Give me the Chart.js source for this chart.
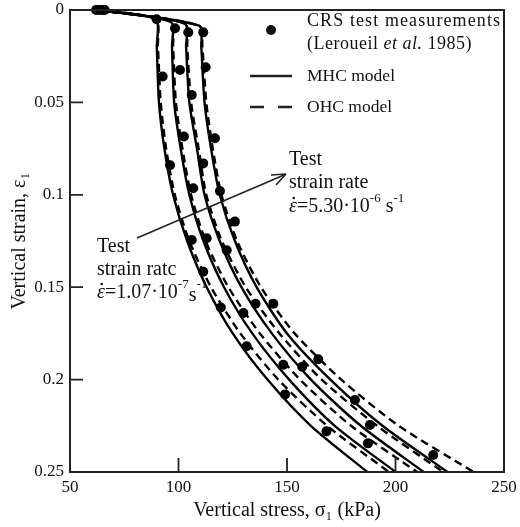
<!DOCTYPE html>
<html>
<head>
<meta charset="utf-8">
<script src="https://cdn.jsdelivr.net/npm/chart.js@4"></script>
<style>
  html, body { margin: 0; padding: 0; background: #fff; }
  #wrap { width: 520px; height: 527px; }
</style>
</head>
<body>
<div id="wrap"><canvas id="myChart" width="520" height="527"></canvas></div>
<script>
// tick labels
const xTicks = [50, 100, 150, 200, 250];
const yTicks = [0, 0.05, 0.1, 0.15, 0.2, 0.25];

// MHC model (solid), one per test, slowest rate on the left
const mhcA = [[63,0],[89.5,0.005],[90,0.02],[91,0.05],[93.5,0.075],[97.5,0.1],[104,0.125],[113,0.15],[125,0.175],[141,0.2],[161,0.225],[187,0.25]];
const mhcB = [[63,0],[96.5,0.0065],[97,0.02],[98,0.05],[101,0.075],[105,0.1],[111.5,0.125],[121,0.15],[134,0.175],[151,0.2],[172,0.225],[200,0.25]];
const mhcC = [[63,0],[103,0.0075],[103.5,0.02],[105,0.05],[108.5,0.075],[112,0.1],[119,0.125],[129,0.15],[143,0.175],[161,0.2],[184,0.225],[213,0.25]];
const mhcD = [[63,0],[109.5,0.0085],[110.5,0.02],[112,0.05],[115,0.075],[119,0.1],[126,0.125],[136,0.15],[150,0.175],[170,0.2],[194,0.225],[224,0.25]];

// OHC model (dashed)
const ohcA = [[63,0],[89.5,0.005],[90.5,0.02],[91.8,0.05],[94.3,0.075],[98.3,0.1],[105,0.125],[115,0.15],[128.5,0.175],[146,0.2],[168.5,0.225],[197,0.25]];
const ohcB = [[63,0],[96.5,0.0065],[97.5,0.02],[98.8,0.05],[101.8,0.075],[105.8,0.1],[112.5,0.125],[123,0.15],[137.5,0.175],[156,0.2],[179.5,0.225],[210,0.25]];
const ohcC = [[63,0],[103,0.0075],[104,0.02],[105.8,0.05],[109.3,0.075],[112.8,0.1],[120,0.125],[131,0.15],[146.5,0.175],[166,0.2],[191.5,0.225],[222,0.25]];
const ohcD = [[63,0],[109.5,0.0085],[111,0.02],[112.8,0.05],[115.8,0.075],[119.8,0.1],[127,0.125],[138,0.15],[153.5,0.175],[175,0.2],[201.5,0.225],[236,0.25]];

// CRS test measurements (Leroueil et al. 1985)
const dotsStart = [[62,0],[63.5,0],[65,0],[66,0]];
const dotsA = [[89.9,0.005],[92.7,0.036],[96.1,0.084],[106.1,0.1245],[111.4,0.1416],[119.5,0.161],[131.4,0.182],[149.1,0.208],[168.2,0.228]];
const dotsB = [[98.4,0.0099],[100.7,0.0325],[102.5,0.0685],[106.8,0.0965],[113,0.1235],[129.9,0.164],[148.3,0.192],[187.3,0.2345]];
const dotsC = [[104.5,0.0121],[106.1,0.046],[111.4,0.083],[122.2,0.13],[135.5,0.159],[157,0.193],[188.2,0.2246]];
const dotsD = [[111.4,0.0121],[112.5,0.031],[116.8,0.0694],[119.1,0.098],[126,0.1145],[143.7,0.159],[164.4,0.189],[181.3,0.211],[217.4,0.2408]];

const toPts = arr => arr.map(p => ({ x: p[0], y: p[1] }));
const serif = "'Liberation Serif', 'DejaVu Serif', serif";

function lineSet(data, dashed) {
  return {
    data: toPts(data),
    showLine: true,
    borderColor: '#000',
    borderWidth: 2.4,
    borderDash: dashed ? [8, 5] : [],
    pointRadius: 0,
    tension: 0.25,
    fill: false,
    clip: false
  };
}

const measured = [].concat(dotsStart, dotsA, dotsB, dotsC, dotsD);

const framePlugin = {
  id: 'frame',
  afterDraw(chart) {
    const ctx = chart.ctx;
    const a = chart.chartArea;
    const xs = chart.scales.x, ys = chart.scales.y;
    ctx.save();
    ctx.strokeStyle = '#222';
    ctx.lineWidth = 2;
    ctx.strokeRect(a.left, a.top, a.right - a.left, a.bottom - a.top);
    // inward ticks
    ctx.lineWidth = 1.8;
    ctx.beginPath();
    yTicks.slice(1, -1).forEach(v => {
      const py = ys.getPixelForValue(v);
      ctx.moveTo(a.left, py); ctx.lineTo(a.left + 13, py);
    });
    xTicks.slice(1, -1).forEach(v => {
      const px = xs.getPixelForValue(v);
      ctx.moveTo(px, a.bottom); ctx.lineTo(px, a.bottom - 14);
    });
    ctx.stroke();

    ctx.fillStyle = '#111';
    ctx.textBaseline = 'middle';
    ctx.textAlign = 'left';
    const font = (sz, it) => (it ? 'italic ' : '') + sz + 'px ' + serif;

    // legend
    ctx.beginPath();
    ctx.arc(271, 30, 5, 0, Math.PI * 2);
    ctx.fill();
    ctx.font = font(18);
    ctx.letterSpacing = '1.1px';
    ctx.fillText('CRS test measurements', 307, 21);
    ctx.letterSpacing = '0.5px';
    let x = 307;
    ctx.fillText('(Leroueil ', x, 44); x += ctx.measureText('(Leroueil ').width;
    ctx.font = font(18, true);
    ctx.fillText('et al.', x, 44); x += ctx.measureText('et al.').width;
    ctx.font = font(18);
    ctx.fillText(' 1985)', x, 44);
    ctx.letterSpacing = '0px';
    ctx.lineWidth = 2.4;
    ctx.beginPath();
    ctx.moveTo(250, 76); ctx.lineTo(292, 76);
    ctx.moveTo(250, 107); ctx.lineTo(264, 107);
    ctx.moveTo(278, 107); ctx.lineTo(292, 107);
    ctx.stroke();
    ctx.font = font(17.5);
    ctx.fillText('MHC model', 307, 76);
    ctx.fillText('OHC model', 307, 107);

    // strain rate notes
    const f = 20;
    function rate(x0, y0, base, e1, s, e2, sLow) {
      let cx = x0;
      ctx.font = font(f, true);
      const w = ctx.measureText('\u03b5').width;
      ctx.fillText('\u03b5', cx, y0);
      ctx.beginPath();
      ctx.arc(cx + w * 0.6, y0 - 9, 1.3, 0, Math.PI * 2);
      ctx.fill();
      cx += w;
      ctx.font = font(f);
      ctx.fillText(base, cx, y0); cx += ctx.measureText(base).width;
      ctx.font = font(13);
      ctx.fillText(e1, cx, y0 - 8); cx += ctx.measureText(e1).width;
      ctx.font = font(f);
      ctx.fillText(s, cx, y0 + (sLow ? 3 : 0)); cx += ctx.measureText(s).width;
      ctx.font = font(13);
      ctx.fillText(e2, cx, y0 - 8);
    }
    ctx.font = font(f);
    ctx.fillText('Test', 289, 160);
    ctx.fillText('strain rate', 289, 183);
    rate(289, 207, '=5.30\u00b710', '-6', ' s', '-1', false);
    ctx.font = font(f);
    ctx.fillText('Test', 97, 247);
    ctx.fillText('strain ratc', 97, 270);
    rate(97, 293, '=1.07\u00b710', '-7', 's', '-1', true);

    // arrow
    ctx.lineWidth = 1.6;
    ctx.beginPath();
    ctx.moveTo(137, 238); ctx.lineTo(284, 175);
    ctx.stroke();
    ctx.beginPath();
    ctx.moveTo(286, 174); ctx.lineTo(271, 175); ctx.moveTo(286, 174); ctx.lineTo(276, 185);
    ctx.stroke();
    ctx.restore();
  }
};

const canvas = document.getElementById('myChart').getContext('2d');
const myChart = new Chart(canvas, {
  type: 'scatter',
  data: {
    datasets: [
      lineSet(mhcA, false), lineSet(mhcB, false), lineSet(mhcC, false), lineSet(mhcD, false),
      lineSet(ohcA, true), lineSet(ohcB, true), lineSet(ohcC, true), lineSet(ohcD, true),
      {
        data: toPts(measured),
        pointRadius: 5,
        pointBackgroundColor: '#000',
        pointBorderWidth: 0,
        showLine: false,
        clip: false
      }
    ]
  },
  options: {
    responsive: false,
    animation: false,
    layout: { padding: { left: 4, right: 16, top: 10, bottom: 0 } },
    plugins: { legend: { display: false }, tooltip: { enabled: false } },
    scales: {
      x: {
        type: 'linear', min: 50, max: 250,
        afterBuildTicks: s => { s.ticks = xTicks.map(v => ({ value: v })); },
        afterFit: s => { s.height = 55; s.paddingLeft = 0; s.paddingRight = 0; },
        grid: { display: false, drawTicks: false },
        border: { display: false },
        ticks: { color: '#111', font: { family: serif, size: 17 }, padding: 5, maxRotation: 0 },
        title: { display: true, text: 'Vertical stress, \u03c3\u2081 (kPa)', color: '#111', font: { family: serif, size: 20 }, padding: { top: 0 } }
      },
      y: {
        type: 'linear', min: 0, max: 0.25, reverse: true,
        afterBuildTicks: s => { s.ticks = yTicks.map(v => ({ value: v })); },
        afterFit: s => { s.width = 66; s.paddingTop = 0; s.paddingBottom = 0; },
        grid: { display: false, drawTicks: false },
        border: { display: false },
        ticks: { color: '#111', font: { family: serif, size: 17 }, padding: 6, callback: v => String(v) },
        title: { display: true, text: 'Vertical strain, \u03b5\u2081', color: '#111', font: { family: serif, size: 20 }, padding: { bottom: 0 } }
      }
    }
  },
  plugins: [framePlugin]
});
</script>
</body>
</html>
